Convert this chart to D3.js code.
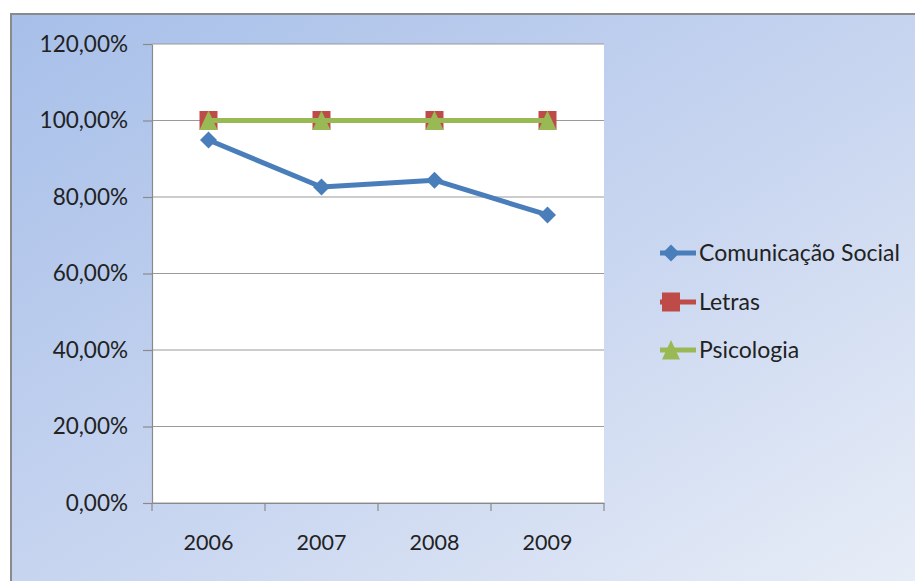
<!DOCTYPE html>
<html>
<head>
<meta charset="utf-8">
<script src="https://cdn.jsdelivr.net/npm/d3@7"></script>
<style>
  html, body { margin: 0; padding: 0; background: #ffffff; }
  svg { display: block; }
  text { font-family: Lato, "Open Sans", sans-serif; fill: #222222; }
</style>
</head>
<body>
<svg id="chart" width="915" height="581"></svg>
<script>
// Taxa por curso e ano
const categories = ["2006", "2007", "2008", "2009"];
const comunicacaoSocial = [94.9, 82.6, 84.4, 75.3];
const letras = [100, 100, 100, 100];
const psicologia = [100, 100, 100, 100];
const yTickValues = [0, 20, 40, 60, 80, 100, 120];

const seriesList = [
  { name: "Comunicação Social", values: comunicacaoSocial, color: "#4a7ebb", marker: "diamond" },
  { name: "Letras", values: letras, color: "#be4b48", marker: "square" },
  { name: "Psicologia", values: psicologia, color: "#98b954", marker: "triangle" }
];

const W = 915, H = 581;
const plot = { left: 152, right: 604, top: 44, bottom: 503 };

const svg = d3.select("#chart");
const defs = svg.append("defs");

const grad = defs.append("linearGradient")
  .attr("id", "bg").attr("x1", "0").attr("y1", "0").attr("x2", "1").attr("y2", "1");
grad.append("stop").attr("offset", "0%").attr("stop-color", "#a7bfe9");
grad.append("stop").attr("offset", "55%").attr("stop-color", "#c9d6f0");
grad.append("stop").attr("offset", "100%").attr("stop-color", "#e7edf7");

// Chart area background and frame
svg.append("rect").attr("x", 10).attr("y", 14).attr("width", W - 10).attr("height", H - 14)
  .attr("fill", "url(#bg)");
svg.append("path")
  .attr("d", `M11,${H} L11,14 L${W},14`)
  .attr("fill", "none").attr("stroke", "#8a8a8a").attr("stroke-width", 2);

// Scales
const x = d3.scaleBand().domain(categories).range([plot.left, plot.right]).padding(0);
const y = d3.scaleLinear().domain([0, 120]).range([plot.bottom, plot.top]);
const cx = c => x(c) + x.bandwidth() / 2;

// Plot area
svg.append("rect")
  .attr("x", plot.left).attr("y", plot.top)
  .attr("width", plot.right - plot.left).attr("height", plot.bottom - plot.top)
  .attr("fill", "#ffffff");

// Gridlines
svg.append("g").selectAll("line").data(yTickValues).join("line")
  .attr("x1", plot.left).attr("x2", plot.right)
  .attr("y1", d => y(d)).attr("y2", d => y(d))
  .attr("stroke", "#9a9a9a").attr("stroke-width", 1.2);

// Y axis
const fmt = d => d3.format(".2f")(d).replace(".", ",") + "%";
const yAxis = svg.append("g")
  .attr("transform", `translate(${plot.left},0)`)
  .call(d3.axisLeft(y).tickValues(yTickValues).tickFormat(fmt).tickSizeInner(9).tickSizeOuter(0).tickPadding(15));
yAxis.select(".domain").attr("stroke", "#8a8a8a").attr("stroke-width", 1.2);
yAxis.selectAll(".tick line").attr("stroke", "#8a8a8a").attr("stroke-width", 1.2);
yAxis.selectAll(".tick text")
  .style("font-family", "Lato, 'Open Sans', sans-serif")
  .style("font-size", "22.5px").attr("fill", "#222222");

// X axis: labels at category centres, ticks at category boundaries
const xAxis = svg.append("g")
  .attr("transform", `translate(0,${plot.bottom})`)
  .call(d3.axisBottom(x).tickSize(0).tickPadding(32));
xAxis.select(".domain").attr("stroke", "#8a8a8a").attr("stroke-width", 1.2);
xAxis.selectAll(".tick text")
  .style("font-family", "Lato, 'Open Sans', sans-serif")
  .style("font-size", "21.5px").attr("fill", "#222222");
const boundaries = categories.map(c => x(c)).concat([x.range()[1]]);
xAxis.selectAll("line.bound").data(boundaries).join("line")
  .attr("class", "bound")
  .attr("x1", d => d).attr("x2", d => d).attr("y1", 0).attr("y2", 8)
  .attr("stroke", "#8a8a8a").attr("stroke-width", 1.2);

// Marker shapes
function markerPath(type) {
  if (type === "diamond") return "M0,-8.5 L8.5,0 L0,8.5 L-8.5,0 Z";
  if (type === "square") return "M-9,-9.5 L9,-9.5 L9,9.5 L-9,9.5 Z";
  return "M0,-10 L9,9.5 L-9,9.5 Z";
}

// Series lines and markers
const line = d3.line().x(d => cx(d.cat)).y(d => y(d.v));
seriesList.forEach(s => {
  const pts = categories.map((c, i) => ({ cat: c, v: s.values[i] }));
  const g = svg.append("g");
  g.append("path").datum(pts)
    .attr("d", line)
    .attr("fill", "none").attr("stroke", s.color).attr("stroke-width", 5)
    .attr("stroke-linejoin", "round");
  g.selectAll("path.m").data(pts).join("path")
    .attr("class", "m")
    .attr("transform", d => `translate(${cx(d.cat)},${y(d.v)})`)
    .attr("d", markerPath(s.marker))
    .attr("fill", s.color);
});

// Legend
const legendRows = [253, 302, 350];
const legend = svg.append("g");
seriesList.forEach((s, i) => {
  const gy = legendRows[i];
  const g = legend.append("g").attr("transform", `translate(0,${gy})`);
  g.append("line").attr("x1", 660).attr("x2", 696).attr("y1", 0).attr("y2", 0)
    .attr("stroke", s.color).attr("stroke-width", 5);
  g.append("path").attr("transform", "translate(671,0)")
    .attr("d", markerPath(s.marker)).attr("fill", s.color);
  g.append("text").attr("x", 699).attr("y", 0).attr("dy", "0.35em")
    .style("font-size", "23px").text(s.name);
});
</script>
</body>
</html>
